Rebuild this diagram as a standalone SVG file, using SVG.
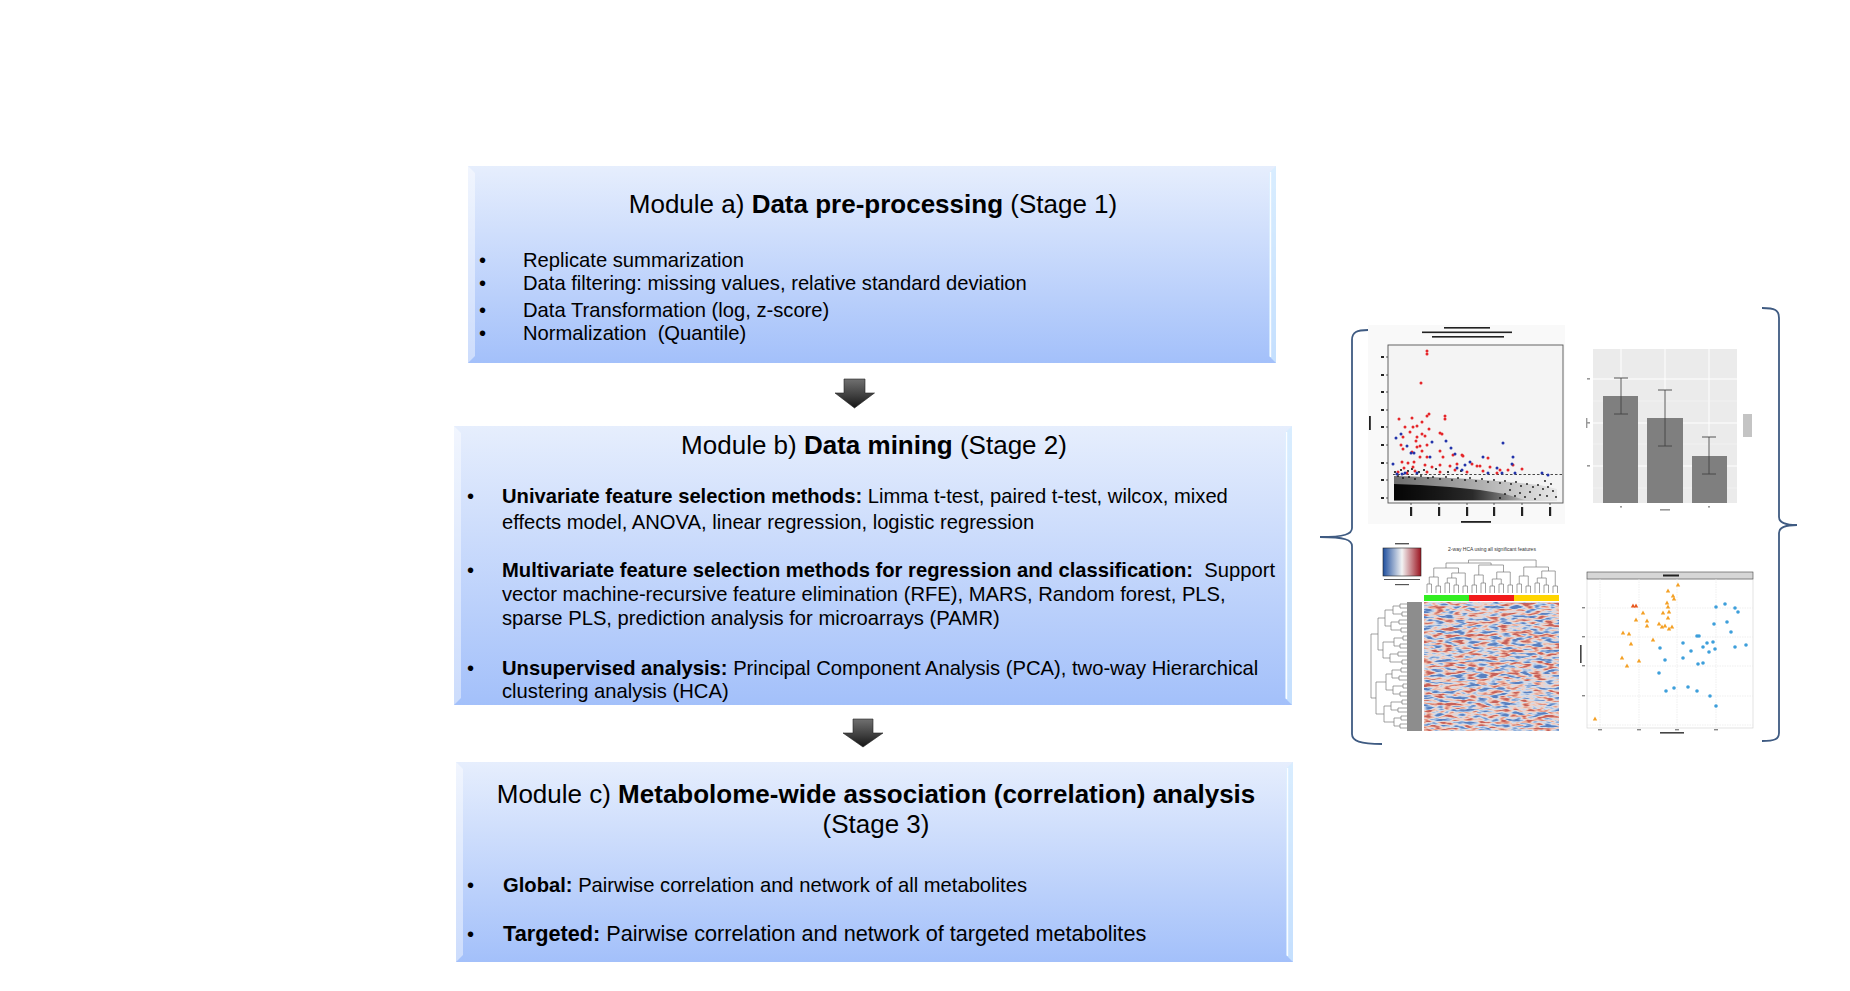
<svg xmlns="http://www.w3.org/2000/svg" width="1850" height="991" viewBox="0 0 1850 991">
<style>
text{font-family:"Liberation Sans",Arial,sans-serif;fill:#000}
.t{font-size:26px;text-anchor:middle}
.b{font-size:20.2px;white-space:pre}
.bd{font-weight:bold}
.dn{fill:#2233aa}
.rd{fill:#e5262a}
.bk{fill:#111}
.fig{fill:none;stroke:#3f5b82;stroke-width:1.8}
.dg{fill:none;stroke:#7a7a7a;stroke-width:0.7}
.bl{filter:url(#blur)}
</style>
<defs>
<linearGradient id="boxg" x1="0" y1="0" x2="0" y2="1">
<stop offset="0" stop-color="#e6eefd"/>
<stop offset="1" stop-color="#a3c0fa"/>
</linearGradient>
<linearGradient id="arrg" x1="0" y1="0" x2="0" y2="1">
<stop offset="0" stop-color="#707070"/>
<stop offset="0.6" stop-color="#3c3c3c"/>
<stop offset="1" stop-color="#151515"/>
</linearGradient>
<linearGradient id="ckey" x1="0" y1="0" x2="1" y2="0">
<stop offset="0" stop-color="#1f4f9e"/>
<stop offset="0.5" stop-color="#f3f3f3"/>
<stop offset="1" stop-color="#9b1420"/>
</linearGradient>
<linearGradient id="blk" x1="0" y1="0" x2="1" y2="0">
<stop offset="0" stop-color="#000" stop-opacity="0.55"/>
<stop offset="0.5" stop-color="#000" stop-opacity="0.3"/>
<stop offset="1" stop-color="#000" stop-opacity="0.05"/>
</linearGradient>
<linearGradient id="blk2" x1="0" y1="0" x2="1" y2="0">
<stop offset="0" stop-color="#000" stop-opacity="0.95"/>
<stop offset="0.6" stop-color="#000" stop-opacity="0.75"/>
<stop offset="1" stop-color="#000" stop-opacity="0.1"/>
</linearGradient>
<filter id="blur" x="-50%" y="-50%" width="200%" height="200%"><feGaussianBlur stdDeviation="0.5"/></filter>
<filter id="hmf" x="0" y="0" width="1" height="1" color-interpolation-filters="sRGB">
<feTurbulence type="fractalNoise" baseFrequency="0.09 0.32" numOctaves="2" seed="7"/>
<feColorMatrix type="matrix" values="2.4 0 0 0 -0.7  2.4 0 0 0 -0.7  2.4 0 0 0 -0.7  0 0 0 0 1"/>
<feComponentTransfer>
<feFuncR type="table" tableValues="0.35 0.55 0.82 0.94 0.90 0.78"/>
<feFuncG type="table" tableValues="0.50 0.68 0.86 0.82 0.62 0.38"/>
<feFuncB type="table" tableValues="0.75 0.86 0.92 0.78 0.55 0.35"/>
</feComponentTransfer>
<feGaussianBlur stdDeviation="0.4"/>
</filter>
<path id="tri" d="M0 -2.4L2.2 1.5H-2.2Z"/>
</defs>

<rect width="1850" height="991" fill="#fff"/>

<g id="box_a">
<rect x="468" y="166" width="808" height="197" fill="url(#boxg)"/>
<polygon points="468,166 475,173 475,356 468,363" fill="#fff" fill-opacity="0.45"/>
<polygon points="1276,166 1269,173 1269,356 1276,363" fill="#d3ecff" fill-opacity="0.7"/>
<line x1="1270.5" y1="172" x2="1270.5" y2="357" stroke="#fff" stroke-opacity="0.9" stroke-width="1.4"/>
<text class="t" x="873" y="213">Module a) <tspan class="bd">Data pre-processing</tspan> (Stage 1)</text>
<text class="b" x="479" y="267">•</text>
<text class="b" x="523" y="267">Replicate summarization</text>
<text class="b" x="479" y="290">•</text>
<text class="b" x="523" y="290">Data filtering: missing values, relative standard deviation</text>
<text class="b" x="479" y="317">•</text>
<text class="b" x="523" y="317">Data Transformation (log, z-score)</text>
<text class="b" x="479" y="340">•</text>
<text class="b" x="523" y="340">Normalization  (Quantile)</text>
</g>

<g id="box_b">
<rect x="454" y="426" width="838" height="279" fill="url(#boxg)"/>
<polygon points="454,426 461,433 461,698 454,705" fill="#fff" fill-opacity="0.45"/>
<polygon points="1292,426 1285,433 1285,698 1292,705" fill="#d3ecff" fill-opacity="0.7"/>
<line x1="1286.5" y1="432" x2="1286.5" y2="699" stroke="#fff" stroke-opacity="0.9" stroke-width="1.4"/>
<text class="t" x="874" y="454">Module b) <tspan class="bd">Data mining</tspan> (Stage 2)</text>
<text class="b" x="467" y="503">•</text>
<text class="b" x="502" y="503"><tspan class="bd">Univariate feature selection methods:</tspan> Limma t-test, paired t-test, wilcox, mixed</text>
<text class="b" x="502" y="529">effects model, ANOVA, linear regression, logistic regression</text>
<text class="b" x="467" y="577">•</text>
<text class="b" x="502" y="577"><tspan class="bd">Multivariate feature selection methods for regression and classification:</tspan>  Support</text>
<text class="b" x="502" y="601">vector machine-recursive feature elimination (RFE), MARS, Random forest, PLS,</text>
<text class="b" x="502" y="625">sparse PLS, prediction analysis for microarrays (PAMR)</text>
<text class="b" x="467" y="675">•</text>
<text class="b" x="502" y="675"><tspan class="bd">Unsupervised analysis:</tspan> Principal Component Analysis (PCA), two-way Hierarchical</text>
<text class="b" x="502" y="698">clustering analysis (HCA)</text>
</g>

<g id="box_c">
<rect x="456" y="762" width="837" height="200" fill="url(#boxg)"/>
<polygon points="456,762 463,769 463,955 456,962" fill="#fff" fill-opacity="0.45"/>
<polygon points="1293,762 1286,769 1286,955 1293,962" fill="#d3ecff" fill-opacity="0.7"/>
<line x1="1287.5" y1="768" x2="1287.5" y2="956" stroke="#fff" stroke-opacity="0.9" stroke-width="1.4"/>
<text class="t" x="876" y="803">Module c) <tspan class="bd">Metabolome-wide association (correlation) analysis</tspan></text>
<text class="t" x="876" y="833">(Stage 3)</text>
<text class="b" x="467" y="892">•</text>
<text class="b" x="503" y="892"><tspan class="bd">Global:</tspan> Pairwise correlation and network of all metabolites</text>
<text class="b" x="467" y="941">•</text>
<text class="b" x="503" y="941" style="font-size:21.7px"><tspan class="bd">Targeted:</tspan> Pairwise correlation and network of targeted metabolites</text>
</g>

<g id="connectors">
<path d="M844 379H865V393H874.5L854.5 408L835 393H844Z" fill="url(#arrg)" stroke="#222" stroke-width="0.6"/>
<path d="M853 719H873V733H883L863 747L843 733H853Z" fill="url(#arrg)" stroke="#222" stroke-width="0.6"/>
</g>

<g id="figures">
<path class="fig" d="M1368 330C1357 330 1352 332 1352 340V528C1352 534 1345 537 1320 537C1345 537 1352 540 1352 546V734C1352 741 1360 744 1382 744"/>
<path class="fig" d="M1762 308C1775 308 1779 310 1779 318V517C1779 522 1783 525 1797 525C1783 525 1779 528 1779 533V733C1779 739 1775 741 1762 741"/>

<g id="volcano_plot">
<rect x="1368" y="325" width="197" height="199" fill="#f9f9f9"/>
<rect x="1388" y="345" width="175" height="158" fill="#f4f4f4" stroke="#555" stroke-width="0.9"/>
<g class="bl" fill="#222">
<rect x="1444" y="327" width="46" height="1.6"/>
<rect x="1422" y="331.5" width="90" height="1.6"/>
<rect x="1432" y="336" width="72" height="1.6"/>
<rect x="1461" y="521" width="30" height="1.8"/>
<rect x="1369" y="416" width="1.8" height="14"/>
<rect x="1381" y="356" width="3" height="2"/><rect x="1381" y="374" width="3" height="2"/><rect x="1381" y="391" width="3" height="2"/><rect x="1381" y="409" width="3" height="2"/><rect x="1381" y="426" width="3" height="2"/><rect x="1381" y="444" width="3" height="2"/><rect x="1381" y="462" width="3" height="2"/><rect x="1381" y="479" width="3" height="2"/><rect x="1381" y="497" width="3" height="2"/>
<rect x="1410" y="507" width="2.2" height="9"/><rect x="1438" y="507" width="2.2" height="9"/><rect x="1466" y="507" width="2.2" height="9"/><rect x="1493" y="507" width="2.2" height="9"/><rect x="1521" y="507" width="2.2" height="9"/><rect x="1549" y="507" width="2.2" height="9"/>
</g>
<path d="M1386 357H1388M1386 375H1388M1386 392H1388M1386 410H1388M1386 427H1388M1386 445H1388M1386 463H1388M1386 480H1388M1386 498H1388M1411 503V505M1439 503V505M1467 503V505M1494 503V505M1522 503V505M1550 503V505" stroke="#333" stroke-width="0.8"/>
<polygon points="1394,501 1394,476 1430,477 1470,479 1510,482 1540,485 1557,489 1557,501" fill="url(#blk)"/>
<polygon points="1394,500 1394,484 1420,485 1450,487 1480,490 1505,494 1525,500" fill="url(#blk2)"/>
<g class="bk">
<circle cx="1398" cy="476" r="0.9"/><circle cx="1403" cy="478" r="0.9"/><circle cx="1409" cy="477" r="0.9"/><circle cx="1415" cy="479" r="0.9"/><circle cx="1421" cy="476" r="0.9"/><circle cx="1428" cy="478" r="0.9"/><circle cx="1433" cy="477" r="0.9"/><circle cx="1440" cy="479" r="0.9"/><circle cx="1446" cy="477" r="0.9"/><circle cx="1452" cy="480" r="0.9"/><circle cx="1458" cy="478" r="0.9"/><circle cx="1465" cy="480" r="0.9"/><circle cx="1470" cy="478" r="0.9"/><circle cx="1476" cy="481" r="0.9"/><circle cx="1482" cy="479" r="0.9"/><circle cx="1488" cy="482" r="0.9"/><circle cx="1494" cy="480" r="0.9"/><circle cx="1500" cy="483" r="0.9"/><circle cx="1505" cy="481" r="0.9"/><circle cx="1511" cy="484" r="0.9"/><circle cx="1516" cy="482" r="0.9"/><circle cx="1521" cy="486" r="0.9"/><circle cx="1527" cy="484" r="0.9"/><circle cx="1533" cy="487" r="0.9"/><circle cx="1538" cy="485" r="0.9"/><circle cx="1543" cy="489" r="0.9"/><circle cx="1548" cy="487" r="0.9"/><circle cx="1553" cy="491" r="0.9"/><circle cx="1530" cy="492" r="0.9"/><circle cx="1540" cy="495" r="0.9"/><circle cx="1520" cy="493" r="0.9"/><circle cx="1510" cy="490" r="0.9"/><circle cx="1547" cy="496" r="0.9"/><circle cx="1535" cy="499" r="0.9"/><circle cx="1525" cy="497" r="0.9"/><circle cx="1515" cy="496" r="0.9"/><circle cx="1505" cy="494" r="0.9"/><circle cx="1500" cy="498" r="0.9"/><circle cx="1545" cy="481" r="0.9"/><circle cx="1551" cy="484" r="0.9"/><circle cx="1556" cy="497" r="0.9"/>
<circle cx="1395" cy="472" r="1.1"/><circle cx="1401" cy="470" r="1.1"/><circle cx="1408" cy="471" r="1.1"/><circle cx="1412" cy="469" r="1.1"/><circle cx="1419" cy="472" r="1.1"/><circle cx="1424" cy="470" r="1.1"/><circle cx="1436" cy="469" r="1.1"/><circle cx="1448" cy="472" r="1.1"/><circle cx="1461" cy="471" r="1.1"/>
</g>
<line x1="1393" y1="474.5" x2="1562" y2="474.5" stroke="#333" stroke-width="0.9" stroke-dasharray="2.5,2"/>
<g class="rd">
<circle cx="1427" cy="351" r="1.5"/><circle cx="1427" cy="354" r="1.5"/><circle cx="1421" cy="383" r="1.5"/><circle cx="1399" cy="419" r="1.5"/><circle cx="1412" cy="418" r="1.5"/><circle cx="1427" cy="416" r="1.5"/><circle cx="1429" cy="414" r="1.5"/><circle cx="1445" cy="416" r="1.5"/><circle cx="1445" cy="419" r="1.5"/><circle cx="1422" cy="422" r="1.5"/><circle cx="1405" cy="427" r="1.5"/><circle cx="1413" cy="427" r="1.5"/><circle cx="1417" cy="426" r="1.5"/><circle cx="1429" cy="429" r="1.5"/><circle cx="1410" cy="432" r="1.5"/><circle cx="1440" cy="433" r="1.5"/><circle cx="1442" cy="434" r="1.5"/><circle cx="1422" cy="434" r="1.5"/><circle cx="1403" cy="437" r="1.5"/><circle cx="1417" cy="437" r="1.5"/><circle cx="1425" cy="436" r="1.5"/><circle cx="1416" cy="441" r="1.5"/><circle cx="1420" cy="446" r="1.5"/><circle cx="1417" cy="447" r="1.5"/><circle cx="1401" cy="445" r="1.5"/><circle cx="1427" cy="445" r="1.5"/><circle cx="1403" cy="449" r="1.5"/><circle cx="1412" cy="452" r="1.5"/><circle cx="1422" cy="451" r="1.5"/><circle cx="1427" cy="457" r="1.5"/><circle cx="1420" cy="457" r="1.5"/><circle cx="1440" cy="451" r="1.5"/><circle cx="1443" cy="457" r="1.5"/><circle cx="1453" cy="455" r="1.5"/><circle cx="1462" cy="455" r="1.5"/><circle cx="1463" cy="456" r="1.5"/><circle cx="1402" cy="462" r="1.5"/><circle cx="1408" cy="463" r="1.5"/><circle cx="1414" cy="462" r="1.5"/><circle cx="1425" cy="465" r="1.5"/><circle cx="1432" cy="467" r="1.5"/><circle cx="1440" cy="465" r="1.5"/><circle cx="1450" cy="466" r="1.5"/><circle cx="1457" cy="464" r="1.5"/><circle cx="1472" cy="464" r="1.5"/><circle cx="1477" cy="466" r="1.5"/><circle cx="1480" cy="466" r="1.5"/><circle cx="1488" cy="458" r="1.5"/><circle cx="1490" cy="467" r="1.5"/><circle cx="1500" cy="470" r="1.5"/><circle cx="1513" cy="465" r="1.5"/><circle cx="1522" cy="469" r="1.5"/><circle cx="1398" cy="472" r="1.5"/><circle cx="1407" cy="473" r="1.5"/><circle cx="1415" cy="471" r="1.5"/><circle cx="1427" cy="472" r="1.5"/><circle cx="1440" cy="472" r="1.5"/><circle cx="1455" cy="470" r="1.5"/><circle cx="1467" cy="472" r="1.5"/><circle cx="1483" cy="471" r="1.5"/><circle cx="1497" cy="473" r="1.5"/><circle cx="1508" cy="470" r="1.5"/><circle cx="1413" cy="467" r="1.5"/><circle cx="1404" cy="468" r="1.5"/>
</g>
<g class="dn">
<circle cx="1396" cy="438" r="1.5"/><circle cx="1401" cy="434" r="1.5"/><circle cx="1407" cy="446" r="1.5"/><circle cx="1411" cy="453" r="1.5"/><circle cx="1414" cy="453" r="1.5"/><circle cx="1430" cy="457" r="1.5"/><circle cx="1432" cy="442" r="1.5"/><circle cx="1446" cy="441" r="1.5"/><circle cx="1451" cy="448" r="1.5"/><circle cx="1455" cy="454" r="1.5"/><circle cx="1503" cy="443" r="1.5"/><circle cx="1513" cy="457" r="1.5"/><circle cx="1512" cy="464" r="1.5"/><circle cx="1483" cy="457" r="1.5"/><circle cx="1470" cy="462" r="1.5"/><circle cx="1465" cy="465" r="1.5"/><circle cx="1393" cy="464" r="1.5"/><circle cx="1397" cy="474" r="1.5"/><circle cx="1402" cy="474" r="1.5"/><circle cx="1405" cy="473" r="1.5"/><circle cx="1417" cy="473" r="1.5"/><circle cx="1457" cy="468" r="1.5"/><circle cx="1462" cy="470" r="1.5"/><circle cx="1488" cy="473" r="1.5"/><circle cx="1497" cy="468" r="1.5"/><circle cx="1502" cy="473" r="1.5"/><circle cx="1542" cy="473" r="1.5"/><circle cx="1548" cy="475" r="1.5"/><circle cx="1515" cy="473" r="1.5"/>
</g>
</g>

<g id="bar_plot">
<rect x="1593" y="349" width="144" height="154" fill="#ebebeb"/>
<path d="M1593 379H1737M1593 423H1737M1593 466H1737M1621 349V503M1665 349V503M1709 349V503" stroke="#fff" stroke-width="1"/>
<path d="M1593 401H1737M1593 444H1737M1593 488H1737" stroke="#f6f6f6" stroke-width="0.5"/>
<rect x="1603" y="396" width="35" height="107" fill="#7f7f7f"/>
<rect x="1647" y="418" width="36" height="85" fill="#7f7f7f"/>
<rect x="1692" y="456" width="35" height="47" fill="#7f7f7f"/>
<path d="M1621 378V414M1614 378H1628M1614 414H1628M1665 390V446M1658 390H1672M1658 446H1672M1709 437V474M1702 437H1716M1702 474H1716" stroke="#444" stroke-width="0.9" fill="none"/>
<g class="bl" fill="#999">
<rect x="1587" y="378" width="3" height="1.6"/><rect x="1587" y="422" width="3" height="1.6"/><rect x="1587" y="465" width="3" height="1.6"/>
<rect x="1586" y="418" width="1.4" height="10"/>
<rect x="1620" y="506" width="2" height="1.6"/><rect x="1660" y="509" width="10" height="1.6"/><rect x="1708" y="506" width="2" height="1.6"/>
<rect x="1743" y="414" width="9" height="23" fill="#c4c4c4"/>
</g>
</g>

<g id="heatmap">
<rect x="1383" y="548" width="38" height="28" fill="url(#ckey)" stroke="#222" stroke-width="0.6"/>
<g class="bl" fill="#555">
<rect x="1395" y="543" width="14" height="1.4"/>
<rect x="1384" y="579" width="36" height="1"/>
<rect x="1395" y="584" width="14" height="1.2"/>
</g>
<text x="1492" y="551" style="font-size:5px;text-anchor:middle;fill:#333">2-way HCA using all significant features</text>
<path class="dg" d="M1427 593V584H1431.5V593M1436 593V586H1440.5V593M1445 593V583H1449.5V593M1454 593V585H1458.5V593M1463 593V586H1467.5V593M1429.25 584V577H1438.25V586M1447.25 583V578H1456.25V585M1451.75 578V573H1465.25V586M1433.75 577V568H1458.5V573M1472 593V585H1476.5V593M1481 593V583H1485.5V593M1490 593V586H1494.5V593M1499 593V584H1503.5V593M1508 593V585H1512.5V593M1474.25 585V575H1483.25V583M1492.25 586V579H1501.25V584M1496.75 579V572H1510.25V585M1478.75 575V565H1503.5V572M1517 593V584H1521.5V593M1526 593V586H1530.5V593M1535 593V583H1539.5V593M1544 593V585H1548.5V593M1553 593V586H1557.5V593M1519.25 584V576H1528.25V586M1537.25 583V578H1546.25V585M1541.75 578V571H1555.25V586M1523.75 576V567H1548.5V571M1446 568V563H1491.1V565M1468.5 563V560H1536.1V567"/>
<rect x="1424" y="595" width="45" height="6" fill="#33ee22"/>
<rect x="1469" y="595" width="45" height="6" fill="#f21b1b"/>
<rect x="1514" y="595" width="45" height="6" fill="#ffd500"/>
<rect x="1424" y="602" width="135" height="129" fill="#ddd" filter="url(#hmf)"/>
<rect x="1407" y="602" width="15" height="129" fill="#8d8d8d"/>
<path class="dg" d="M1407 604H1400V608H1407M1407 612H1402V616H1407M1407 620H1399V624H1407M1407 628H1401V632H1407M1407 636H1403V640H1407M1407 644H1400V648H1407M1407 652H1398V656H1407M1407 660H1402V664H1407M1407 668H1401V672H1407M1407 676H1399V680H1407M1407 684H1403V688H1407M1407 692H1400V696H1407M1407 700H1402V704H1407M1407 708H1398V712H1407M1407 716H1401V720H1407M1407 724H1400V728H1407M1400 606H1393V614H1402M1399 622H1391V630H1401M1403 638H1394V646H1400M1398 654H1390V662H1402M1401 670H1392V678H1399M1403 686H1393V694H1400M1402 702H1391V710H1398M1401 718H1394V726H1400M1393 610H1385V626H1391M1394 642H1383V658H1390M1392 674H1386V690H1393M1391 706H1384V722H1394M1385 618H1378V650H1383M1386 682H1376V714H1384M1378 634H1371V698H1376"/>
</g>

<g id="pca_plot">
<rect x="1587" y="579" width="166" height="149" fill="#fff" stroke="#d0d0d0" stroke-width="0.6"/>
<rect x="1587" y="572" width="166" height="7" fill="#d6d6d6" stroke="#444" stroke-width="0.6"/>
<rect class="bl" x="1663" y="574.5" width="16" height="2" fill="#222"/>
<path d="M1587 608H1753M1587 637H1753M1587 666H1753M1587 696H1753M1587 725H1753M1600 579V728M1639 579V728M1677 579V728M1716 579V728" stroke="#e8e8e8" stroke-width="0.7" stroke-dasharray="1.5,1"/>
<g class="bl" fill="#888">
<rect x="1582" y="607" width="3" height="1.4"/><rect x="1582" y="636" width="3" height="1.4"/><rect x="1582" y="665" width="3" height="1.4"/><rect x="1582" y="695" width="3" height="1.4"/>
<rect x="1598" y="729" width="4" height="1.4"/><rect x="1637" y="729" width="4" height="1.4"/><rect x="1675" y="729" width="4" height="1.4"/><rect x="1714" y="729" width="4" height="1.4"/>
<rect x="1660" y="732" width="24" height="1.6" fill="#444"/>
<rect x="1580" y="645" width="1.6" height="18" fill="#444"/>
</g>
<g fill="#f4a024">
<use href="#tri" x="1678" y="585"/><use href="#tri" x="1668" y="591"/><use href="#tri" x="1673" y="596"/><use href="#tri" x="1674" y="599"/><use href="#tri" x="1667" y="603"/><use href="#tri" x="1668" y="607"/><use href="#tri" x="1669" y="612"/><use href="#tri" x="1663" y="613"/><use href="#tri" x="1643" y="613"/><use href="#tri" x="1636" y="620"/><use href="#tri" x="1647" y="621"/><use href="#tri" x="1647" y="626"/><use href="#tri" x="1668" y="618"/><use href="#tri" x="1659" y="624"/><use href="#tri" x="1662" y="627"/><use href="#tri" x="1665" y="626"/><use href="#tri" x="1669" y="629"/><use href="#tri" x="1672" y="627"/><use href="#tri" x="1623" y="633"/><use href="#tri" x="1629" y="634"/><use href="#tri" x="1653" y="640"/><use href="#tri" x="1631" y="644"/><use href="#tri" x="1622" y="658"/><use href="#tri" x="1639" y="661"/><use href="#tri" x="1627" y="666"/><use href="#tri" x="1595" y="719"/>
</g>
<g fill="#e8561c">
<use href="#tri" x="1633" y="606"/><use href="#tri" x="1636" y="606"/>
</g>
<g fill="#3d9fdb">
<circle cx="1716" cy="607" r="1.8"/><circle cx="1725" cy="604" r="1.8"/><circle cx="1735" cy="608" r="1.8"/><circle cx="1738" cy="612" r="1.8"/><circle cx="1714" cy="624" r="1.8"/><circle cx="1727" cy="622" r="1.8"/><circle cx="1731" cy="632" r="1.8"/><circle cx="1697" cy="636" r="1.8"/><circle cx="1699" cy="636" r="1.8"/><circle cx="1683" cy="643" r="1.8"/><circle cx="1660" cy="648" r="1.8"/><circle cx="1707" cy="643" r="1.8"/><circle cx="1713" cy="642" r="1.8"/><circle cx="1703" cy="647" r="1.8"/><circle cx="1691" cy="651" r="1.8"/><circle cx="1709" cy="652" r="1.8"/><circle cx="1715" cy="649" r="1.8"/><circle cx="1735" cy="647" r="1.8"/><circle cx="1746" cy="645" r="1.8"/><circle cx="1683" cy="658" r="1.8"/><circle cx="1665" cy="660" r="1.8"/><circle cx="1698" cy="664" r="1.8"/><circle cx="1703" cy="663" r="1.8"/><circle cx="1659" cy="673" r="1.8"/><circle cx="1666" cy="691" r="1.8"/><circle cx="1674" cy="688" r="1.8"/><circle cx="1688" cy="687" r="1.8"/><circle cx="1697" cy="691" r="1.8"/><circle cx="1710" cy="696" r="1.8"/><circle cx="1716" cy="706" r="1.8"/>
</g>
</g>
</g>
</svg>
